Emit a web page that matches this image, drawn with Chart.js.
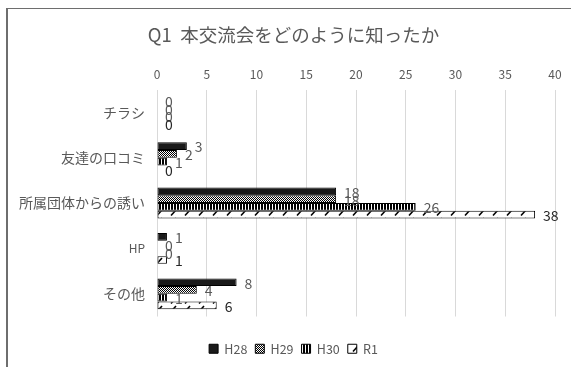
<!DOCTYPE html>
<html>
<head>
<meta charset="utf-8">
<script src="https://cdn.jsdelivr.net/npm/chart.js@4"></script>
<style>
  html, body { margin: 0; padding: 0; background: #fff; }
  #frame { position: absolute; left: 6px; top: 8px; width: 700px; height: 500px;
           border-left: 2px solid #6e6e6e; border-top: 1px solid #6e6e6e; }
  #wrap { position: absolute; left: 0; top: 0; width: 571px; height: 367px; overflow: hidden; }
  canvas { position: absolute; left: 0; top: 0; }
</style>
</head>
<body>
<div id="wrap">
  <div id="frame"></div>
  <canvas id="chart" width="571" height="367"></canvas>
</div>
<script>
const titleText = "Q1  本交流会をどのように知ったか";
const categories = ["チラシ", "友達の口コミ", "所属団体からの誘い", "HP", "その他"];
const seriesNames = ["H28", "H29", "H30", "R1"];
const h28 = [0, 3, 18, 1, 8];
const h29 = [0, 2, 18, 0, 4];
const h30 = [0, 1, 26, 0, 1];
const r1 = [0, 0, 38, 1, 6];
const xMin = 0, xMax = 40, xStep = 5;

const FONT = "'Noto Sans CJK JP', 'Noto Sans', sans-serif";
const labelColors = ["#595959", "#595959", "#595959", "#262626"];

// pattern tiles like the Excel fills
function makePattern(w, h, draw){
  const c = document.createElement("canvas");
  c.width = w; c.height = h;
  const g = c.getContext("2d");
  draw(g);
  return g.createPattern(c, "repeat");
}

const solid = "#1a1a1a";
const checks = makePattern(2, 2, g => {
  g.fillStyle = "#fff"; g.fillRect(0, 0, 2, 2);
  g.fillStyle = "#000"; g.fillRect(0, 0, 1, 1); g.fillRect(1, 1, 1, 1);
});
const stripes = makePattern(3, 1, g => {
  g.fillStyle = "#fff"; g.fillRect(0, 0, 3, 1);
  g.fillStyle = "#000"; g.fillRect(0, 0, 2, 1);
});
const dashes = makePattern(14, 8, g => {
  g.fillStyle = "#fff"; g.fillRect(0, 0, 14, 8);
  g.strokeStyle = "#000"; g.lineWidth = 1.6;
  g.beginPath(); g.moveTo(3, 7.5); g.lineTo(8, 2); g.stroke();
});
const fills = [solid, checks, stripes, dashes];
const values = [h28, h29, h30, r1];

// value labels at the end of each bar
const valueLabels = {
  id: "valueLabels",
  afterDatasetsDraw(chart){
    const ctx = chart.ctx;
    ctx.save();
    ctx.font = "14px " + FONT;
    ctx.textAlign = "left";
    ctx.textBaseline = "middle";
    chart.data.datasets.forEach((ds, i) => {
      const meta = chart.getDatasetMeta(i);
      meta.data.forEach((bar, j) => {
        ctx.fillStyle = labelColors[i];
        ctx.fillText(String(ds.data[j]), bar.x + 8, bar.y + 1);
      });
    });
    ctx.restore();
  }
};

// the frame in the picture is wider than the crop, so title and legend sit right of centre
const shiftBlocks = {
  id: "shiftBlocks",
  afterLayout(chart){
    chart.titleBlock.left += 32;
    chart.legend.left += 32;
  }
};

new Chart(document.getElementById("chart"), {
  type: "bar",
  data: {
    labels: categories,
    datasets: seriesNames.map((name, i) => ({
      label: name,
      data: values[i],
      backgroundColor: fills[i],
      borderColor: "#000",
      borderWidth: c => (c.raw === 0 ? 0 : 1),
      borderSkipped: false,
      categoryPercentage: 0.68,
      barPercentage: 1.0
    }))
  },
  options: {
    indexAxis: "y",
    responsive: false,
    animation: false,
    layout: { padding: { left: 0, right: 16, top: 0, bottom: 2 } },
    scales: {
      x: {
        position: "top",
        min: xMin,
        max: xMax,
        ticks: { stepSize: xStep, color: "#595959", font: { family: FONT, size: 12 }, padding: 8 },
        grid: { color: "#d9d9d9", drawTicks: false },
        border: { display: false },
        afterFit: s => { s.height = 33.4; s.paddingRight = 0; s.paddingLeft = 0; }
      },
      y: {
        ticks: {
          color: "#595959",
          // latin label is set smaller, like the original
          font: c => ({ family: FONT, size: categories[c.index] === "HP" ? 12 : 14 }),
          padding: 12
        },
        grid: { display: false, drawTicks: false },
        border: { display: false },
        afterFit: s => { s.width = 157; }
      }
    },
    plugins: {
      title: {
        display: true,
        text: titleText,
        color: "#595959",
        font: { family: FONT, size: 18.5, weight: "normal" },
        padding: { top: 24, bottom: 10 }
      },
      legend: {
        position: "bottom",
        title: { display: true, text: "", font: { size: 10 }, padding: { top: 6, bottom: 0 } },
        labels: {
          boxWidth: 9,
          boxHeight: 9,
          padding: 8,
          color: "#595959",
          font: { family: FONT, size: 12.5 },
          generateLabels: chart => Chart.defaults.plugins.legend.labels.generateLabels(chart)
            .map(item => Object.assign(item, { lineWidth: 1, strokeStyle: "#000" }))
        }
      },
      tooltip: { enabled: false }
    }
  },
  plugins: [valueLabels, shiftBlocks]
});
</script>
</body>
</html>
